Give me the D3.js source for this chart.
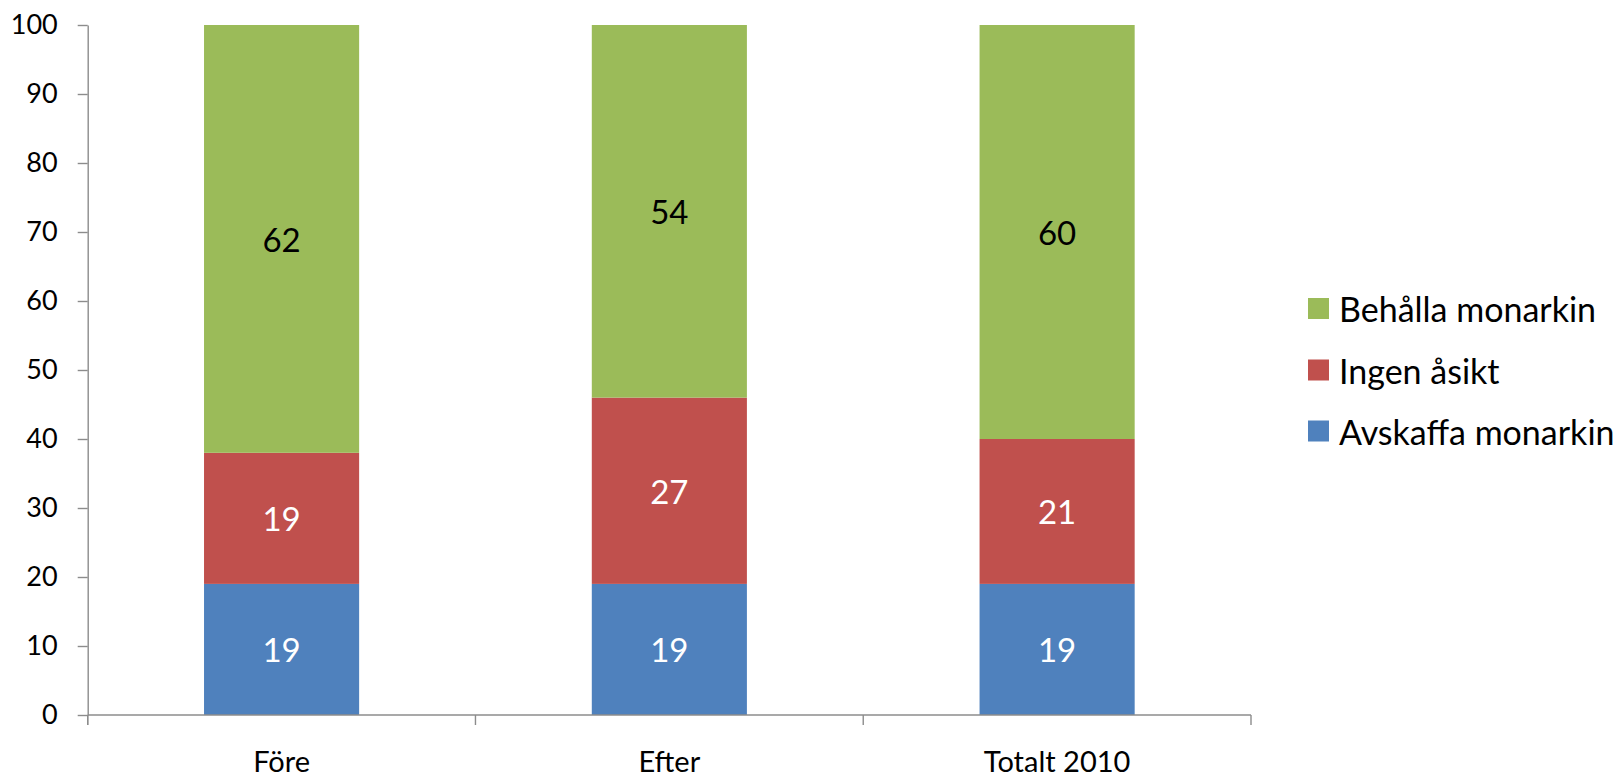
<!DOCTYPE html>
<html>
<head>
<meta charset="utf-8">
<script src="https://cdn.jsdelivr.net/npm/d3@7"></script>
<style>
  html, body { margin: 0; padding: 0; background: #ffffff; }
  svg { display: block; }
  text { font-family: Lato, "Open Sans", "Noto Sans", sans-serif; }
</style>
</head>
<body>
<script>
const categories = ["Före", "Efter", "Totalt 2010"];
const avskaffa = [19, 19, 19];
const ingen = [19, 27, 21];
const behalla = [62, 54, 60];
const seriesNames = ["Avskaffa monarkin", "Ingen åsikt", "Behålla monarkin"];
const yTicks = [0, 10, 20, 30, 40, 50, 60, 70, 80, 90, 100];

const W = 1619, H = 778;
const colors = ["#4F81BD", "#C0504D", "#9BBB59"];
const labelColors = ["#ffffff", "#ffffff", "#000000"];
const axisColor = "#8C8C8C";

const svg = d3.select("body").append("svg").attr("width", W).attr("height", H);

const x = d3.scaleBand().domain(categories).range([87.7, 1251]).paddingInner(0.6).paddingOuter(0.3);
const y = d3.scaleLinear().domain([0, 100]).range([715, 25]);

const rows = categories.map((c, i) => ({ cat: c, a: avskaffa[i], i_: ingen[i], b: behalla[i] }));
const stack = d3.stack().keys(["a", "i_", "b"]);
const stacked = stack(rows);

const g = svg.append("g");
stacked.forEach((layer, k) => {
  g.selectAll(null).data(layer).enter().append("rect")
    .attr("x", d => x(d.data.cat))
    .attr("width", x.bandwidth())
    .attr("y", d => y(d[1]))
    .attr("height", d => y(d[0]) - y(d[1]))
    .attr("fill", colors[k]);
  g.selectAll(null).data(layer).enter().append("text")
    .attr("x", d => x(d.data.cat) + x.bandwidth() / 2)
    .attr("y", d => y((d[0] + d[1]) / 2))
    .attr("text-anchor", "middle")
    .attr("dominant-baseline", "central")
    .attr("font-size", 33)
    .attr("fill", labelColors[k])
    .text(d => d[1] - d[0]);
});

// Y axis
const yAxis = svg.append("g").attr("transform", "translate(87.7,0)")
  .call(d3.axisLeft(y).tickValues(yTicks).tickSize(10).tickSizeOuter(0).tickPadding(20));
yAxis.selectAll("path, line").attr("stroke", axisColor).attr("stroke-width", 1.4);
yAxis.selectAll("text").attr("font-size", 27).attr("fill", "#000").attr("font-family", "Lato, 'Open Sans', sans-serif");
// extend y axis line down below zero
svg.append("line").attr("x1", 87.7).attr("x2", 87.7).attr("y1", y(0)).attr("y2", y(0) + 10)
  .attr("stroke", axisColor).attr("stroke-width", 1.4);

// X axis
const xr = x.range();
svg.append("line").attr("x1", xr[0]).attr("x2", xr[1]).attr("y1", y(0)).attr("y2", y(0))
  .attr("stroke", axisColor).attr("stroke-width", 1.4);
const bounds = d3.range(categories.length + 1).map(i => xr[0] + i * x.step());
svg.selectAll(null).data(bounds).enter().append("line")
  .attr("x1", d => d).attr("x2", d => d).attr("y1", y(0)).attr("y2", y(0) + 10)
  .attr("stroke", axisColor).attr("stroke-width", 1.4);
svg.selectAll(null).data(categories).enter().append("text")
  .attr("x", d => x(d) + x.bandwidth() / 2)
  .attr("y", 772)
  .attr("text-anchor", "middle")
  .attr("font-size", 29)
  .attr("fill", "#000")
  .text(d => d);

// Legend
const legendOrder = [2, 1, 0];
const legendY = [308.5, 370, 431];
legendOrder.forEach((k, j) => {
  svg.append("rect").attr("x", 1308).attr("y", legendY[j] - 10.5).attr("width", 21).attr("height", 21).attr("fill", colors[k]);
  svg.append("text").attr("x", 1339).attr("y", legendY[j]).attr("dominant-baseline", "central")
    .attr("font-size", 34).attr("fill", "#000").text(seriesNames[k]);
});
</script>
</body>
</html>
